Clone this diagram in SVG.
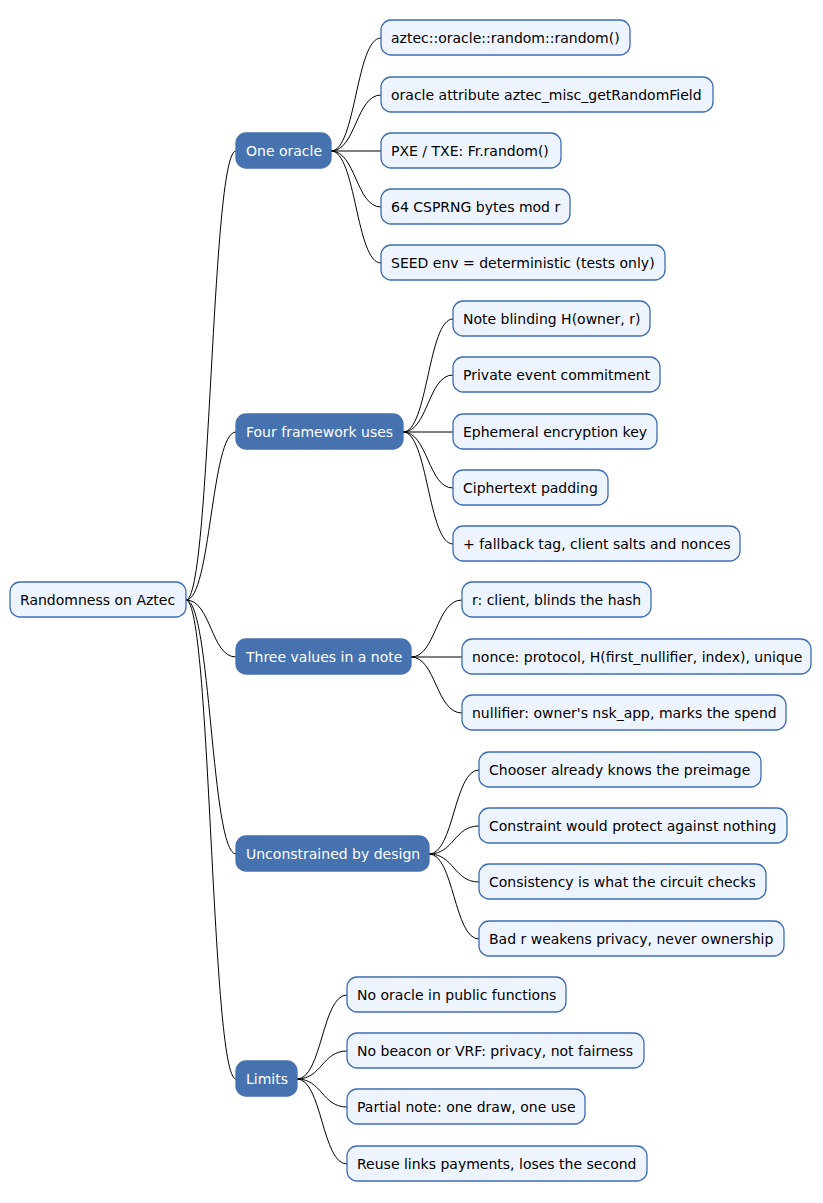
<svg xmlns="http://www.w3.org/2000/svg" width="823" height="1203" viewBox="0 0 823 1203">
<style>
.l rect{fill:#EEF4FD;stroke:#3D6DB5;stroke-width:1.3}
.b rect{fill:#4672B0;stroke:#4672B0;stroke-width:1.3}
text{font-family:"DejaVu Sans",sans-serif;font-size:14px;dominant-baseline:central}
.b text{fill:#fff}
.l text{fill:#000}
#c path{fill:none;stroke:#000;stroke-width:1}
</style>
<rect width="823" height="1203" fill="#fff"/>
<g id="c">
<path d="M186,600 C211,600 211,151 236,151"/>
<path d="M186,600 C211,600 211,432 236,432"/>
<path d="M186,600 C211,600 211,657 236,657"/>
<path d="M186,600 C211,600 211,854 236,854"/>
<path d="M186,600 C211,600 211,1079 236,1079"/>
<path d="M331,151 C356,151 356,38 381,38"/>
<path d="M331,151 C356,151 356,95 381,95"/>
<path d="M331,151 L381,151"/>
<path d="M331,151 C356,151 356,207 381,207"/>
<path d="M331,151 C356,151 356,263 381,263"/>
<path d="M403,432 C428,432 428,319 453,319"/>
<path d="M403,432 C428,432 428,375 453,375"/>
<path d="M403,432 L453,432"/>
<path d="M403,432 C428,432 428,488 453,488"/>
<path d="M403,432 C428,432 428,544 453,544"/>
<path d="M411,657 C436,657 436,600 462,600"/>
<path d="M411,657 L462,657"/>
<path d="M411,657 C436,657 436,713 462,713"/>
<path d="M429,854 C454,854 454,770 479,770"/>
<path d="M429,854 C454,854 454,826 479,826"/>
<path d="M429,854 C454,854 454,882 479,882"/>
<path d="M429,854 C454,854 454,939 479,939"/>
<path d="M297,1079 C322,1079 322,995 347,995"/>
<path d="M297,1079 C322,1079 322,1051 347,1051"/>
<path d="M297,1079 C322,1079 322,1107 347,1107"/>
<path d="M297,1079 C322,1079 322,1164 347,1164"/>
</g>
<g id="root" class="l"><rect x="10" y="582" width="176" height="35" rx="10"/><text x="20" y="600">Randomness on Aztec</text></g>
<g id="b1" class="b"><rect x="236" y="133" width="95" height="35" rx="10"/><text x="246" y="151">One oracle</text></g>
<g id="b2" class="b"><rect x="236" y="414" width="167" height="35" rx="10"/><text x="246" y="432">Four framework uses</text></g>
<g id="b3" class="b"><rect x="236" y="639" width="175" height="35" rx="10"/><text x="246" y="657">Three values in a note</text></g>
<g id="b4" class="b"><rect x="236" y="836" width="193" height="35" rx="10"/><text x="246" y="854">Unconstrained by design</text></g>
<g id="b5" class="b"><rect x="236" y="1061" width="61" height="35" rx="10"/><text x="246" y="1079">Limits</text></g>
<g id="n1" class="l"><rect x="381" y="20" width="249" height="35" rx="10"/><text x="391" y="38">aztec::oracle::random::random()</text></g>
<g id="n2" class="l"><rect x="381" y="77" width="332" height="35" rx="10"/><text x="391" y="95">oracle attribute aztec_misc_getRandomField</text></g>
<g id="n3" class="l"><rect x="381" y="133" width="180" height="35" rx="10"/><text x="391" y="151">PXE / TXE: Fr.random()</text></g>
<g id="n4" class="l"><rect x="381" y="189" width="189" height="35" rx="10"/><text x="391" y="207">64 CSPRNG bytes mod r</text></g>
<g id="n5" class="l"><rect x="381" y="245" width="284" height="35" rx="10"/><text x="391" y="263">SEED env = deterministic (tests only)</text></g>
<g id="n6" class="l"><rect x="453" y="301" width="197" height="35" rx="10"/><text x="463" y="319">Note blinding H(owner, r)</text></g>
<g id="n7" class="l"><rect x="453" y="357" width="207" height="35" rx="10"/><text x="463" y="375">Private event commitment</text></g>
<g id="n8" class="l"><rect x="453" y="414" width="204" height="35" rx="10"/><text x="463" y="432">Ephemeral encryption key</text></g>
<g id="n9" class="l"><rect x="453" y="470" width="155" height="35" rx="10"/><text x="463" y="488">Ciphertext padding</text></g>
<g id="n10" class="l"><rect x="453" y="526" width="287" height="35" rx="10"/><text x="463" y="544">+ fallback tag, client salts and nonces</text></g>
<g id="n11" class="l"><rect x="462" y="582" width="189" height="35" rx="10"/><text x="472" y="600">r: client, blinds the hash</text></g>
<g id="n12" class="l"><rect x="462" y="639" width="349" height="35" rx="10"/><text x="472" y="657">nonce: protocol, H(first_nullifier, index), unique</text></g>
<g id="n13" class="l"><rect x="462" y="695" width="324" height="35" rx="10"/><text x="472" y="713">nullifier: owner's nsk_app, marks the spend</text></g>
<g id="n14" class="l"><rect x="479" y="752" width="282" height="35" rx="10"/><text x="489" y="770">Chooser already knows the preimage</text></g>
<g id="n15" class="l"><rect x="479" y="808" width="308" height="35" rx="10"/><text x="489" y="826">Constraint would protect against nothing</text></g>
<g id="n16" class="l"><rect x="479" y="864" width="287" height="35" rx="10"/><text x="489" y="882">Consistency is what the circuit checks</text></g>
<g id="n17" class="l"><rect x="479" y="921" width="305" height="35" rx="10"/><text x="489" y="939">Bad r weakens privacy, never ownership</text></g>
<g id="n18" class="l"><rect x="347" y="977" width="219" height="35" rx="10"/><text x="357" y="995">No oracle in public functions</text></g>
<g id="n19" class="l"><rect x="347" y="1033" width="297" height="35" rx="10"/><text x="357" y="1051">No beacon or VRF: privacy, not fairness</text></g>
<g id="n20" class="l"><rect x="347" y="1089" width="238" height="35" rx="10"/><text x="357" y="1107">Partial note: one draw, one use</text></g>
<g id="n21" class="l"><rect x="347" y="1146" width="300" height="35" rx="10"/><text x="357" y="1164">Reuse links payments, loses the second</text></g>
</svg>
